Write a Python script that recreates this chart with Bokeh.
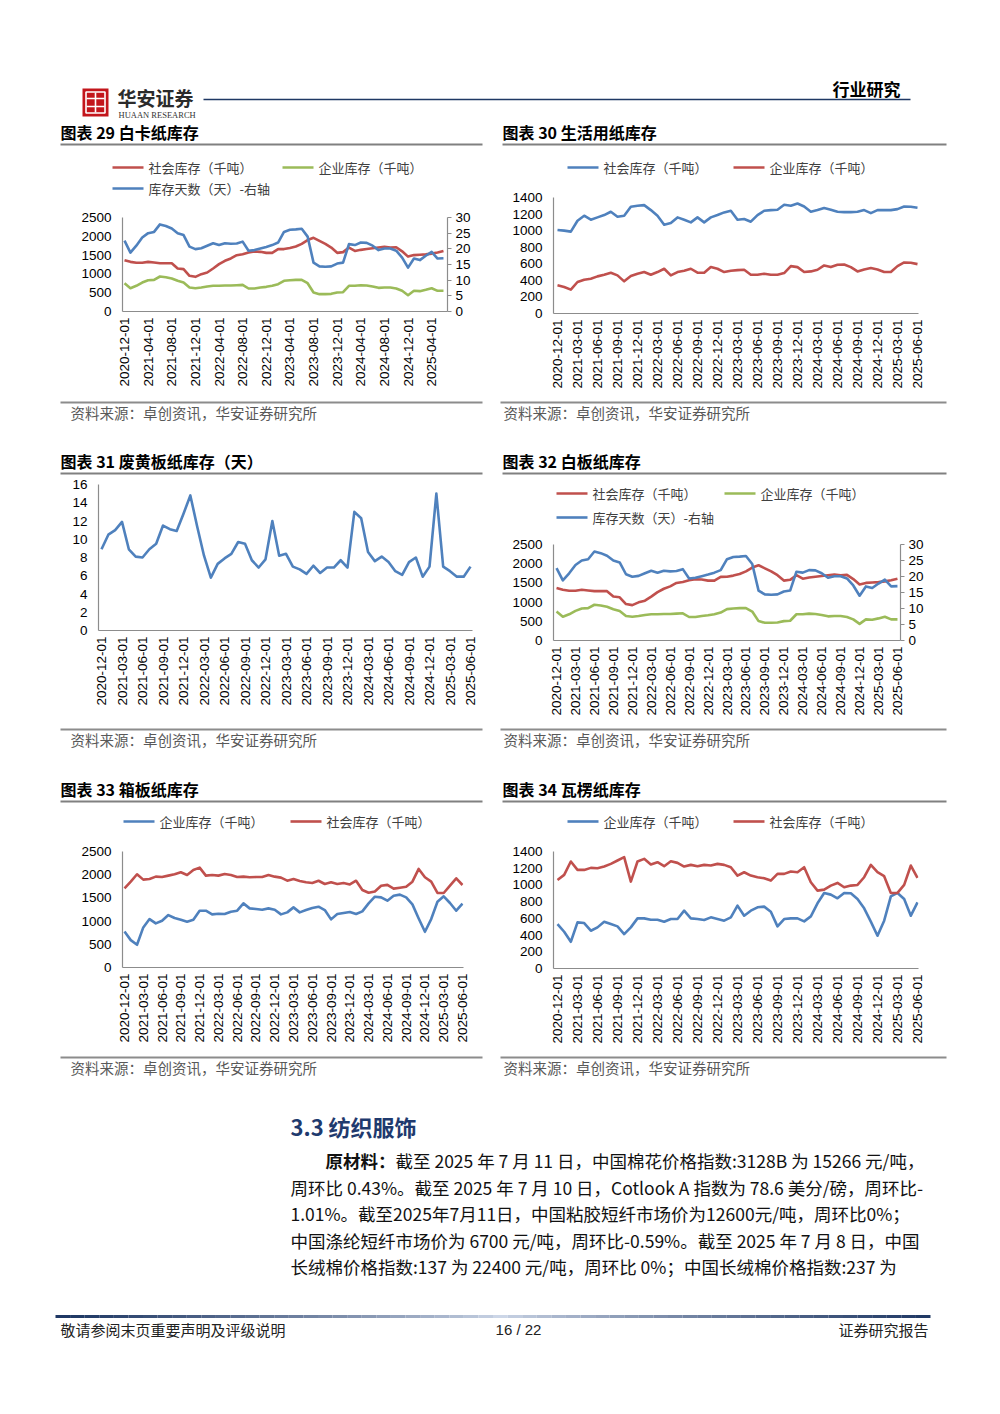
import numpy as np
import pandas as pd
from bokeh.plotting import figure
from bokeh.layouts import column, row
from bokeh.models import Range1d, LinearAxis, FixedTicker
from bokeh.core.properties import value
from bokeh.embed import file_html
from bokeh.resources import INLINE

CJK = "Noto Sans CJK SC"
LAT = "Liberation Sans"
RED = "#C0504D"
GREEN = "#9BBB59"
BLUE = "#4F81BD"
AXIS = "#8C8C8C"

# ---------------- data ----------------
months = [d.strftime("%Y-%m-%d") for d in pd.date_range("2020-12-01", "2025-06-01", freq="MS")]
idx = list(range(len(months)))

# 图表29 / 图表32 白卡纸 / 白板纸
card_social = [1365, 1320, 1295, 1295, 1320, 1303, 1285, 1285, 1285, 1144,
               1126, 949, 922, 993, 1037, 1144, 1259, 1348, 1410, 1498,
               1525, 1569, 1596, 1587, 1560, 1560, 1658, 1660, 1690, 1730,
               1800, 1900, 1960, 1880, 1800, 1700, 1560, 1580, 1700, 1610,
               1640, 1660, 1680, 1700, 1720, 1700, 1710, 1600, 1460, 1500,
               1510, 1520, 1540, 1570, 1610]
card_enterprise = [753, 620, 683, 771, 833, 842, 931, 913, 878, 816,
                   771, 638, 620, 638, 665, 683, 683, 691, 691, 700,
                   709, 612, 612, 638, 656, 683, 727, 816, 833, 842,
                   842, 753, 505, 461, 461, 470, 505, 514, 683, 683,
                   700, 691, 665, 629, 638, 638, 612, 550, 434, 550,
                   541, 576, 620, 550, 550]
card_days = [22.6, 18.8, 21.0, 23.6, 25.0, 25.4, 27.8, 27.3, 26.5, 25.0,
             24.4, 20.7, 19.9, 20.2, 21.0, 21.8, 21.2, 21.8, 21.6, 21.7,
             22.3, 19.4, 19.6, 20.1, 20.6, 21.2, 22.0, 25.4, 26.1, 26.2,
             26.4, 23.9, 15.6, 14.4, 14.3, 14.4, 15.3, 15.6, 21.5, 21.2,
             22.0, 21.9, 21.0, 19.6, 20.1, 20.1, 19.4, 17.2, 14.0, 16.9,
             16.4, 17.8, 19.0, 16.9, 17.0]

# 图表30 生活用纸
tissue_social = [1008, 1000, 988, 1120, 1180, 1132, 1160, 1188, 1228, 1168,
                 1180, 1288, 1300, 1308, 1248, 1180, 1072, 1092, 1160, 1132,
                 1100, 1160, 1100, 1160, 1188, 1220, 1240, 1132, 1140, 1108,
                 1188, 1240, 1248, 1252, 1312, 1300, 1328, 1292, 1228, 1248,
                 1272, 1252, 1228, 1224, 1224, 1228, 1248, 1212, 1248, 1248,
                 1248, 1260, 1292, 1288, 1276]
tissue_enterprise = [340, 320, 288, 380, 408, 420, 448, 468, 492, 460,
                     388, 452, 480, 500, 468, 500, 540, 460, 500, 516,
                     540, 492, 492, 560, 540, 500, 516, 524, 528, 468,
                     468, 480, 468, 468, 488, 572, 560, 500, 508, 528,
                     580, 560, 588, 592, 560, 508, 532, 548, 532, 500,
                     500, 572, 616, 612, 596]

# 图表31 废黄板纸库存（天）
waste_days = [8.9, 10.5, 11.0, 11.9, 8.9, 8.1, 8.0, 8.9, 9.5, 11.5,
              11.1, 10.9, 12.8, 14.8, 11.4, 8.2, 5.8, 7.3, 7.9, 8.4,
              9.7, 9.5, 7.7, 6.9, 7.8, 12.0, 8.2, 8.4, 7.0, 6.7,
              6.2, 7.1, 6.3, 6.9, 6.9, 7.7, 6.9, 13.0, 12.3, 8.6,
              7.6, 8.1, 7.5, 6.5, 6.1, 7.5, 8.0, 5.9, 7.0, 15.0,
              7.0, 6.5, 5.9, 5.9, 7.0]

# 图表33 箱板纸
box_enterprise = [778, 590, 490, 864, 1044, 950, 1008, 1130, 1066, 1030,
                  986, 1030, 1224, 1224, 1145, 1159, 1152, 1202, 1224, 1382,
                  1274, 1260, 1246, 1274, 1246, 1145, 1188, 1296, 1188, 1238,
                  1282, 1310, 1238, 1037, 1152, 1174, 1195, 1152, 1210, 1382,
                  1526, 1512, 1440, 1548, 1570, 1512, 1361, 1058, 770, 1044,
                  1418, 1534, 1390, 1224, 1375]
box_social = [1706, 1850, 2009, 1894, 1908, 1958, 1951, 1980, 2009, 2052,
              1994, 2102, 2153, 1980, 1994, 1980, 2016, 1994, 1951, 1958,
              1944, 1951, 1951, 1994, 1958, 1937, 1872, 1908, 1865, 1836,
              1822, 1870, 1800, 1836, 1800, 1820, 1790, 1870, 1670, 1610,
              1640, 1760, 1780, 1700, 1720, 1740, 1850, 2124, 1944, 1850,
              1606, 1606, 1764, 1922, 1778]

# 图表34 瓦楞纸
corr_enterprise = [532, 440, 320, 552, 544, 452, 492, 560, 532, 504,
                   412, 492, 600, 600, 584, 584, 560, 592, 592, 692,
                   600, 592, 580, 612, 592, 572, 612, 752, 632, 692,
                   732, 740, 680, 504, 592, 600, 600, 564, 624, 780,
                   904, 884, 840, 904, 900, 832, 720, 560, 392, 572,
                   864, 904, 832, 632, 792]
corr_social = [1060, 1120, 1280, 1180, 1180, 1204, 1200, 1220, 1252, 1292,
               1332, 1040, 1280, 1312, 1244, 1272, 1224, 1284, 1264, 1220,
               1240, 1224, 1240, 1232, 1252, 1240, 1212, 1112, 1152, 1112,
               1092, 1080, 1052, 1132, 1132, 1160, 1152, 1212, 1032, 932,
               944, 992, 1024, 972, 992, 1000, 1092, 1240, 1152, 1104,
               904, 904, 1000, 1232, 1084]

ticks_2500 = [0, 500, 1000, 1500, 2000, 2500]
ticks_1400 = [0, 200, 400, 600, 800, 1000, 1200, 1400]
ticks_16 = [0, 2, 4, 6, 8, 10, 12, 14, 16]
ticks_30 = [0, 5, 10, 15, 20, 25, 30]

SOURCE = "资料来源：卓创资讯，华安证券研究所"
BODY_LINES = [
    "周环比 0.43%。截至 2025 年 7 月 10 日，Cotlook A 指数为 78.6 美分/磅，周环比-",
    "1.01%。截至2025年7月11日，中国粘胶短纤市场价为12600元/吨，周环比0%；",
    "中国涤纶短纤市场价为 6700 元/吨，周环比-0.59%。截至 2025 年 7 月 8 日，中国",
    "长绒棉价格指数:137 为 22400 元/吨，周环比 0%；中国长绒棉价格指数:237 为",
]


# ---------------- helpers ----------------
def deco(x0, y0, w, h):
    p = figure(width=w, height=h, x_range=Range1d(x0, x0 + w), y_range=Range1d(y0 + h, y0),
               x_axis_type=None, y_axis_type=None, output_backend="svg", toolbar_location=None,
               min_border=0, outline_line_color=None)
    return p


def T(p, x, y, s, size, color="#000000", font=CJK, style="normal", align="left"):
    p.text(x=[x], y=[y], text=[s], text_font=value(font), text_font_size=value(f"{size}px"),
           text_font_style=value(style), text_color=color, text_align=value(align),
           text_baseline=value("middle"))


def L(p, x0, y0, x1, y1, color, width):
    p.segment(x0=[x0], y0=[y0], x1=[x1], y1=[y1], line_color=color, line_width=width)


def legend_item(p, x, y, color, label):
    L(p, x, y, x + 31, y, color, 2.6)
    T(p, x + 36, y, label, 13, color="#404040")


def title(p, x, y, s, x_end):
    T(p, x, y, s, 16, style="bold")
    L(p, x, y + 13, x_end, y + 13, "#808080", 1.8)


def bottom(x0, y0, w, h, lx0, lx1, tx):
    p = deco(x0, y0, w, h)
    L(p, lx0, y0 + 7, lx1, y0 + 7, "#8C8C8C", 1.8)
    T(p, tx, y0 + 17, SOURCE, 14.5, color="#595959")
    return p


def chart(fx, fy, w, h, frame, xr, ymax, yticks, step, series, right=None):
    fl, ft, fr, fb = frame
    left, top, fw, fh = fl - fx, ft - fy, fr - fl, fb - ft
    p = figure(width=w, height=h, x_range=Range1d(*xr), y_range=Range1d(0, ymax),
               output_backend="svg", toolbar_location=None,
               min_border_left=left, min_border_top=top,
               min_border_right=w - left - fw, min_border_bottom=h - top - fh,
               outline_line_color=None)
    p.grid.visible = False
    xa = p.xaxis[0]
    tk = list(range(0, len(months), step))
    xa.ticker = FixedTicker(ticks=tk)
    xa.major_label_overrides = {i: months[i] for i in tk}
    xa.major_label_orientation = np.pi / 2
    ya = p.yaxis[0]
    ya.ticker = FixedTicker(ticks=yticks)
    for ax in (xa, ya):
        ax.axis_line_color = AXIS
        ax.axis_line_width = 1.2
        ax.major_tick_line_color = None
        ax.minor_tick_line_color = None
        ax.major_tick_out = 0
        ax.major_tick_in = 0
        ax.minor_tick_out = 0
        ax.major_label_text_font = LAT
        ax.major_label_text_font_size = "13.5px"
        ax.major_label_text_color = "#000000"
    xa.major_label_standoff = 6
    ya.major_label_standoff = 11
    if right is not None:
        rmax, rticks = right
        p.extra_y_ranges = {"r": Range1d(0, rmax)}
        ra = LinearAxis(y_range_name="r", ticker=FixedTicker(ticks=rticks))
        ra.axis_line_color = AXIS
        ra.axis_line_width = 1.2
        ra.major_tick_line_color = AXIS
        ra.major_tick_out = 4
        ra.major_tick_in = 0
        ra.minor_tick_line_color = None
        ra.major_label_standoff = 4
        ra.major_label_text_font = LAT
        ra.major_label_text_font_size = "13.5px"
        ra.major_label_text_color = "#000000"
        p.add_layout(ra, "right")
    for ys, color, rname in series:
        kw = {"y_range_name": "r"} if rname else {}
        p.line(idx, ys, line_color=color, line_width=2.6, line_join="round", **kw)
    return p


LX, LW = 0, 495
RX, RW = 495, 497

# ---------------- header ----------------
hdr = deco(0, 0, 992, 120)
hdr.rect(x=[95], y=[102], width=26, height=28, fill_color="#C3161C", line_color=None)
hdr.rect(x=[95], y=[102], width=19, height=21, fill_color=None, line_color="white", line_width=1.6)
L(hdr, 86, 98, 104, 98, "white", 1.6)
L(hdr, 86, 106, 104, 106, "white", 1.6)
L(hdr, 95, 92, 95, 112, "white", 1.6)
T(hdr, 117, 97, "华安证券", 19, color="#2B2B2B", style="bold")
T(hdr, 118, 114, "HUAAN RESEARCH", 8.5, color="#333333", font="Liberation Serif")
L(hdr, 203, 99, 910, 99, "#1F3864", 1.3)
T(hdr, 900, 88, "行业研究", 17, style="bold", align="right")

# ---------------- row 1 ----------------
t29 = deco(LX, 120, LW, 83)
title(t29, 60, 131, "图表 29 白卡纸库存", 482)
legend_item(t29, 112, 167, RED, "社会库存（千吨）")
legend_item(t29, 282, 167, GREEN, "企业库存（千吨）")
legend_item(t29, 112, 188, BLUE, "库存天数（天）-右轴")
c29 = chart(LX, 203, LW, 192, (122, 217, 447, 311), (-0.34, 54.68), 2500, ticks_2500, 4,
            [(card_social, RED, None), (card_enterprise, GREEN, None), (card_days, BLUE, "r")],
            right=(30, ticks_30))
b29 = bottom(LX, 395, LW, 30, 60, 482, 70)

t30 = deco(RX, 120, RW, 65)
title(t30, 502, 131, "图表 30 生活用纸库存", 946)
legend_item(t30, 567, 167, BLUE, "社会库存（千吨）")
legend_item(t30, 733, 167, RED, "企业库存（千吨）")
c30 = chart(RX, 185, RW, 210, (553, 197, 918, 313), (-0.6, 54.15), 1400, ticks_1400, 3,
            [(tissue_social, BLUE, None), (tissue_enterprise, RED, None)])
b30 = bottom(RX, 395, RW, 30, 500, 946, 503)

# ---------------- row 2 ----------------
t31 = deco(LX, 425, LW, 51)
title(t31, 60, 460, "图表 31 废黄板纸库存（天）", 482)
c31 = chart(LX, 476, LW, 246, (98, 484, 472, 630), (-0.44, 54.29), 16, ticks_16, 3,
            [(waste_days, BLUE, None)])
b31 = bottom(LX, 722, LW, 30, 60, 482, 70)

t32 = deco(RX, 425, RW, 105)
title(t32, 502, 460, "图表 32 白板纸库存", 946)
legend_item(t32, 556, 493, RED, "社会库存（千吨）")
legend_item(t32, 724, 493, GREEN, "企业库存（千吨）")
legend_item(t32, 556, 517, BLUE, "库存天数（天）-右轴")
c32 = chart(RX, 530, RW, 192, (553, 544, 900, 640), (-0.48, 54.48), 2500, ticks_2500, 3,
            [(card_social, RED, None), (card_enterprise, GREEN, None), (card_days, BLUE, "r")],
            right=(30, ticks_30))
b32 = bottom(RX, 722, RW, 30, 500, 946, 503)

# ---------------- row 3 ----------------
t33 = deco(LX, 752, LW, 88)
title(t33, 60, 788, "图表 33 箱板纸库存", 482)
legend_item(t33, 123, 821, BLUE, "企业库存（千吨）")
legend_item(t33, 290, 821, RED, "社会库存（千吨）")
c33 = chart(LX, 840, LW, 210, (122, 851, 463, 967), (-0.32, 54.16), 2500, ticks_2500, 3,
            [(box_enterprise, BLUE, None), (box_social, RED, None)])
b33 = bottom(LX, 1050, LW, 30, 60, 482, 70)

t34 = deco(RX, 752, RW, 88)
title(t34, 502, 788, "图表 34 瓦楞纸库存", 946)
legend_item(t34, 567, 821, BLUE, "企业库存（千吨）")
legend_item(t34, 733, 821, RED, "社会库存（千吨）")
c34 = chart(RX, 840, RW, 210, (553, 851, 918, 968), (-0.6, 54.15), 1400, ticks_1400, 3,
            [(corr_enterprise, BLUE, None), (corr_social, RED, None)])
b34 = bottom(RX, 1050, RW, 30, 500, 946, 503)

# ---------------- body + footer ----------------
body = deco(0, 1080, 992, 330)
T(body, 290, 1125, "3.3 纺织服饰", 22, color="#1F3A6E", style="bold")
T(body, 325, 1160, "原材料：", 17.5, style="bold", color="#111111")
T(body, 395, 1160, "截至 2025 年 7 月 11 日，中国棉花价格指数:3128B 为 15266 元/吨，", 17.5, color="#111111")
for k, line in enumerate(BODY_LINES):
    T(body, 290, 1187 + 26.3 * k, line, 17.5, color="#111111")

seg_x = np.linspace(55, 930, 61)
dark = np.array([31, 56, 100])
light = np.array([205, 215, 232])
cols = []
for a, b in zip(seg_x[:-1], seg_x[1:]):
    t = min(abs((a + b) / 2 - 500) / 430, 1.0)
    c = (light + (dark - light) * t ** 0.8).astype(int)
    cols.append("#%02x%02x%02x" % tuple(c))
body.segment(x0=seg_x[:-1], y0=[1316] * 60, x1=seg_x[1:], y1=[1316] * 60, line_color=cols, line_width=3)
T(body, 60, 1329, "敬请参阅末页重要声明及评级说明", 15, color="#222222")
T(body, 518, 1329, "16 / 22", 15, color="#222222", font=LAT, align="center")
T(body, 928, 1329, "证券研究报告", 15, color="#222222", align="right")


def panel(top_fig, chart_fig, bottom_fig):
    # the chart is wrapped in its own row so that its frame is not aligned with the text strips
    return column(top_fig, row(chart_fig), bottom_fig)


layout = column(
    hdr,
    row(panel(t29, c29, b29), panel(t30, c30, b30)),
    row(panel(t31, c31, b31), panel(t32, c32, b32)),
    row(panel(t33, c33, b33), panel(t34, c34, b34)),
    body,
)

open("out.html", "w").write(file_html(layout, INLINE))
